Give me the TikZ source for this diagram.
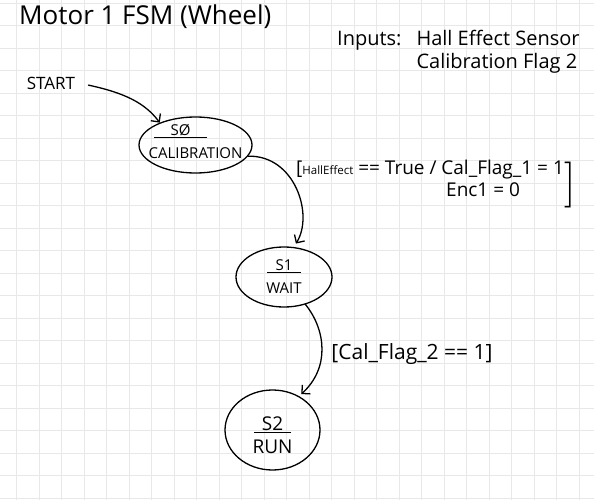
\documentclass[tikz,border=0pt]{standalone}
\usepackage{fontspec}
\setmainfont{Open Sans}
\usetikzlibrary{arrows.meta,shapes.geometric}
\tikzset{
  gridline/.style={draw=gray!18, line width=1.1pt},
  pen/.style={line width=1.3pt, line cap=round},
  state/.style={pen, draw, ellipse, inner sep=0pt},
  trans/.style={pen, -{Straight Barb[length=6pt,width=12pt,line width=1.3pt]}},
  sttext/.style={align=center, inner sep=0pt, font=\fontsize{15}{23}\selectfont},
}
\newcommand{\stname}[4][0pt]{\underline{\makebox[#4]{#2}}\hspace*{#1}\\#3}

\begin{document}
\begin{tikzpicture}[x=1pt,y=-1pt]
		%%%%% PAGE %%%%%
		\path[use as bounding box, fill=white] (0,0) rectangle (594,500);
		\foreach \i in {0,...,25} \draw[gridline] ({16.7+22.5*\i},0) -- ++(0,500);
		\foreach \j in {0,...,22} \draw[gridline] (0,{3.2+22.5*\j}) -- ++(594,0);
		
		%%%%% HEADER %%%%%
		\node[anchor=west, inner sep=0pt, font=\fontsize{26}{30}\selectfont] (title) at (19,17) {Motor 1 FSM (Wheel)};
		\node[anchor=north west, inner sep=0pt, font=\fontsize{20}{23}\selectfont] (inputs) at (337,29)
			{\begin{tabular}{@{}l@{\hspace{15pt}}l@{}}Inputs: & Hall Effect Sensor\\ & Calibration Flag 2\end{tabular}};
		
		%%%%% STATES %%%%%
		\node[font=\fontsize{17}{20}\selectfont] (start) at (51,83) {START};
		\node[state, minimum width=113pt, minimum height=56pt,
			label={[sttext, yshift=4pt]center:{\stname[30pt]{SØ}{CALIBRATION}{53pt}}}] (s0) at (195.5,145) {};
		\node[state, minimum width=96pt, minimum height=60pt,
			label={[sttext]center:{\stname{S1}{WAIT}{34pt}}}] (s1) at (284,277) {};
		\node[state, minimum width=95pt, minimum height=80pt,
			label={[sttext, yshift=-5pt, font=\fontsize{19}{23}\selectfont]center:{\stname{S2}{RUN}{37pt}}}] (s2) at (272.5,430) {};
		
		%%%%% TRANSITIONS %%%%%
		\draw[trans, shorten <=10pt] (start.east) .. controls (125,93) and (145,103) .. (s0.148);
		\draw[trans, shorten >=4pt] (s0.-12) .. controls (295,155) and (314,215) .. (s1.72);
		\draw[trans, shorten >=3pt] (s1.-52) .. controls (326,330) and (330,368) .. (s2.52);
		
		\node[anchor=north west, inner sep=0pt, align=left, font=\fontsize{19}{22}\selectfont] (lbl01) at (296,160)
			{[{\fontsize{11.5}{12}\selectfont HallEffect} == True / Cal\_Flag\_1 = 1\\\hspace*{150pt}Enc1 = 0};
		\node[inner sep=0pt, font=\fontsize{46}{46}\fontfamily{lmr}\selectfont] (lbl01b) at (570,185) {]};
		\node[font=\fontsize{21}{24}\selectfont] (lbl12) at (412,354) {[Cal\_Flag\_2 == 1]};
		%%%%% END %%%%%
	\end{tikzpicture}
\end{document}
